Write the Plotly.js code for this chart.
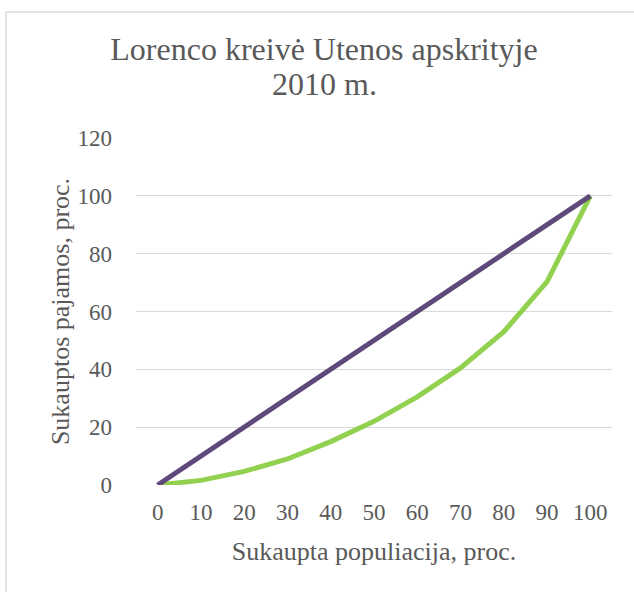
<!DOCTYPE html>
<html>
<head>
<meta charset="utf-8">
<script src="https://cdn.plot.ly/plotly-3.0.1.min.js"></script>
<style>html,body{margin:0;padding:0;background:#fff;}#chart{width:634px;height:592px;}</style>
</head>
<body>
<div id="chart"></div>
<script>
const population = [0, 10, 20, 30, 40, 50, 60, 70, 80, 90, 100];
const equality = [0, 10, 20, 30, 40, 50, 60, 70, 80, 90, 100];
const lorenz = [0, 1.6, 4.7, 9, 15, 22, 30.5, 40.5, 53, 70.3, 100];
const xTicks = [0, 10, 20, 30, 40, 50, 60, 70, 80, 90, 100];
const yTicks = [0, 20, 40, 60, 80, 100, 120];
const titleLine1 = 'Lorenco kreivė Utenos apskrityje';
const titleLine2 = '2010 m.';

const font = "'Liberation Serif', 'Times New Roman', serif";
const textColor = '#595959';

const traces = [
  {x: population, y: lorenz, type: 'scatter', mode: 'lines', name: 'Lorenco kreivė',
   line: {color: '#92D050', width: 5}, hoverinfo: 'x+y'},
  {x: population, y: equality, type: 'scatter', mode: 'lines', name: 'Lygybės linija',
   line: {color: '#5F497A', width: 5}, hoverinfo: 'x+y'}
];

const layout = {
  width: 634, height: 592,
  margin: {l: 136, r: 22, t: 138, b: 107},
  paper_bgcolor: '#ffffff', plot_bgcolor: '#ffffff',
  showlegend: false,
  font: {family: font, color: textColor, size: 23},
  title: {text: titleLine1,
          font: {family: font, size: 32, color: textColor},
          x: 0.511, xanchor: 'center', xref: 'container',
          y: 1 - 60 / 592, yanchor: 'bottom', yref: 'container', pad: {b: 0}},
  annotations: [
    {text: titleLine2, xref: 'paper', yref: 'paper', x: (324 - 136) / 476, y: (485 - 97) / 347,
     xanchor: 'center', yanchor: 'bottom', showarrow: false, yshift: -7,
     font: {family: font, size: 32, color: textColor}}
  ],
  xaxis: {
    range: [-5, 105], tickvals: xTicks, ticktext: xTicks.map(String),
    showgrid: false, zeroline: false, showline: false, ticks: '',
    tickfont: {family: font, size: 23, color: textColor}, ticklabelstandoff: 11,
    title: {text: 'Sukaupta populiacija, proc.', font: {family: font, size: 26, color: textColor}, standoff: 17}
  },
  yaxis: {
    range: [0, 120], tickvals: yTicks, ticktext: yTicks.map(String),
    showgrid: true, gridcolor: '#d9d9d9', gridwidth: 1.3, zeroline: false, showline: false, ticks: '',
    tickfont: {family: font, size: 23, color: textColor}, ticklabelstandoff: 23,
    title: {text: 'Sukauptos pajamos, proc.', font: {family: font, size: 26, color: textColor}, standoff: 0}
  },
  shapes: [
    {type: 'line', xref: 'paper', yref: 'paper', x0: -0.273, x1: -0.273, y0: -0.4, y1: 1.363,
     line: {color: '#d9d9d9', width: 1.5}, layer: 'above'},
    {type: 'line', xref: 'paper', yref: 'paper', x0: -0.273, x1: 1.2, y0: 1.363, y1: 1.363,
     line: {color: '#d9d9d9', width: 1.5}, layer: 'above'}
  ]
};

Plotly.newPlot('chart', traces, layout, {displayModeBar: false, staticPlot: true});
</script>
</body>
</html>
